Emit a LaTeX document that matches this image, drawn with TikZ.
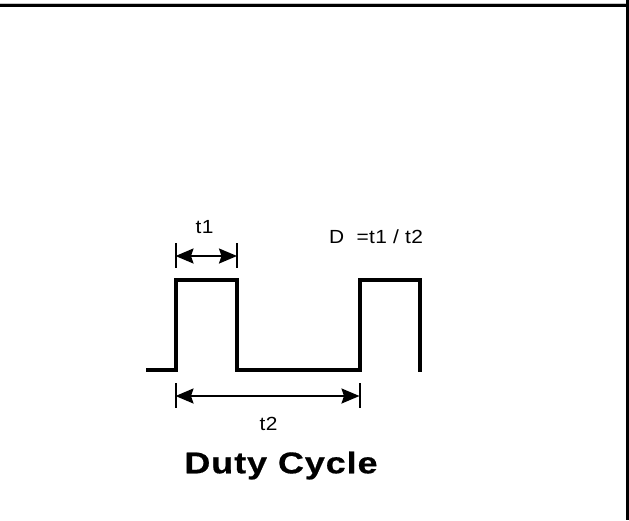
\documentclass[tikz,border=0pt]{standalone}
\usepackage{fontspec}
\setmainfont{Liberation Sans}
\newfontfamily\lblfont[FakeStretch=1.1,LetterSpace=2]{Liberation Sans}
\newfontfamily\titlefont[FakeStretch=1.2,LetterSpace=3,FakeBold=0.6]{Liberation Sans}
\usetikzlibrary{arrows.meta}
\tikzset{
  wave/.style={line width=3.6pt, line join=miter},
  dimline/.style={line width=2pt, {Stealth[length=18pt,width=15pt,inset=2.5pt]}-{Stealth[length=18pt,width=15pt,inset=2.5pt]}},
  dimtick/.style={line width=2pt},
  lbl/.style={inner sep=0pt, anchor=base, font=\lblfont\fontsize{19}{22}\selectfont},
  ttl/.style={inner sep=0pt, anchor=base, font=\titlefont\bfseries\fontsize{30}{34}\selectfont}
}
\begin{document}
\begin{tikzpicture}[x=1pt,y=-1pt]
\useasboundingbox (0,0) rectangle (629,520);
\fill[white] (0,0) rectangle (629,520);
% frame
\draw[gray!45, line width=1pt] (0,3) -- (626,3);
\draw[line width=2.6pt] (0,5.5) -- (627,5.5);
\draw[line width=2.6pt] (627.2,0) -- (627.2,520);
% waveform
\coordinate (w0) at (146,370);
\coordinate (r1b) at (176,370);
\coordinate (r1t) at (176,280);
\coordinate (f1t) at (237,280);
\coordinate (f1b) at (237,370);
\coordinate (r2b) at (360,370);
\coordinate (r2t) at (360,280);
\coordinate (f2t) at (420,280);
\coordinate (f2b) at (420,371.5);
\draw[wave] (w0) -- (r1b) -- (r1t) -- (f1t) -- (f1b) -- (r2b) -- (r2t) -- (f2t) -- (f2b);
% t1 dimension
\coordinate (a1t) at (175.5,243);
\coordinate (a1b) at (175.5,268);
\coordinate (b1t) at (237,243);
\coordinate (b1b) at (237,268);
\coordinate (a1) at (175.5,256);
\coordinate (b1) at (237,256);
\draw[dimtick] (a1t) -- (a1b);
\draw[dimtick] (b1t) -- (b1b);
\draw[dimline] (a1) -- (b1);
% t2 dimension
\coordinate (a2t) at (175.5,383);
\coordinate (a2b) at (175.5,408);
\coordinate (b2t) at (359.5,383);
\coordinate (b2b) at (359.5,408);
\coordinate (a2) at (175.5,396);
\coordinate (b2) at (359.5,396);
\draw[dimtick] (a2t) -- (a2b);
\draw[dimtick] (b2t) -- (b2b);
\draw[dimline] (a2) -- (b2);
% labels
\node[lbl] (t1) at (204.5,233) {t1};
\node[lbl] (d) at (376,243.7) {D\ \ =t1 / t2};
\node[lbl] (t2) at (268.5,430) {t2};
\node[ttl] (title) at (281,473.3) {Duty Cycle};
\end{tikzpicture}
\end{document}
